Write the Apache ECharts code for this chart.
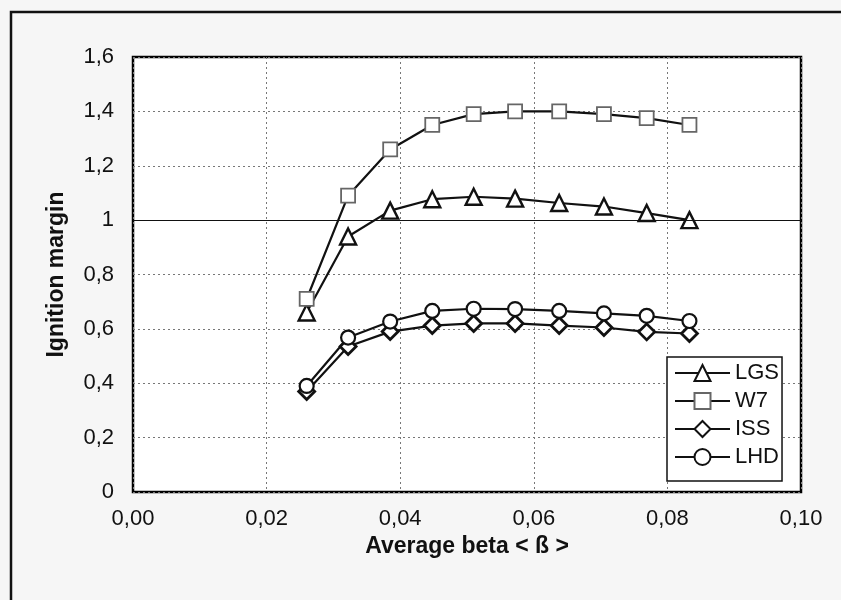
<!DOCTYPE html>
<html>
<head>
<meta charset="utf-8">
<script src="https://cdn.jsdelivr.net/npm/echarts@6/dist/echarts.min.js"></script>
<style>
html,body{margin:0;padding:0;background:#f6f6f6;}
#c{width:841px;height:600px;}
</style>
</head>
<body>
<div id="c"></div>
<script>
var beta = [0.026, 0.0322, 0.0385, 0.0448, 0.051, 0.0572, 0.0638, 0.0705, 0.0769, 0.0833];
var LGS = [0.66, 0.94, 1.035, 1.077, 1.086, 1.079, 1.063, 1.05, 1.026, 1.0];
var W7  = [0.71, 1.09, 1.26, 1.35, 1.39, 1.40, 1.40, 1.39, 1.375, 1.35];
var ISS = [0.37, 0.535, 0.59, 0.612, 0.62, 0.62, 0.612, 0.605, 0.589, 0.583];
var LHD = [0.39, 0.568, 0.627, 0.666, 0.674, 0.673, 0.666, 0.657, 0.648, 0.629];
var seriesNames = ['LGS', 'W7', 'ISS', 'LHD'];

function pairs(ys){ return beta.map(function(b,i){ return [b, ys[i]]; }); }
var FONT = '"Liberation Sans", Arial, sans-serif';

var chart = echarts.init(document.getElementById('c'), null, {renderer:'canvas'});
var lineStyle = {color:'#111', width:2.2};
chart.setOption({
  backgroundColor:'#f6f6f6',
  animation:false,
  textStyle:{fontFamily:FONT},
  graphic:[{type:'rect', shape:{x:11, y:12, width:900, height:700}, style:{fill:null, stroke:'#111', lineWidth:2.5}, z:-1}],
  grid:{left:133, right:40, top:57, bottom:108, show:true, backgroundColor:'#fff', borderColor:'#000', borderWidth:2.5},
  xAxis:{
    type:'value', min:0, max:0.1, interval:0.02,
    name:'Average beta < ß >', nameLocation:'middle', nameGap:42,
    nameTextStyle:{fontSize:23, fontWeight:'bold', color:'#111', fontFamily:FONT},
    axisLine:{show:false}, axisTick:{show:false},
    axisLabel:{margin:16, fontSize:22, color:'#111', fontFamily:FONT,
      formatter:function(v){ return v.toFixed(2).replace('.', ','); }},
    splitLine:{show:true, lineStyle:{type:[2,3], color:'#777', width:1}}
  },
  yAxis:{
    type:'value', min:0, max:1.6, interval:0.2,
    name:'Ignition margin', nameLocation:'middle', nameGap:65,
    nameTextStyle:{fontSize:23, fontWeight:'bold', color:'#111', fontFamily:FONT},
    axisLine:{show:false}, axisTick:{show:false},
    axisLabel:{margin:19, fontSize:22, color:'#111', fontFamily:FONT,
      formatter:function(v){ if (Math.abs(v)<1e-9) return '0'; if (Math.abs(v-1)<1e-9) return '1'; return v.toFixed(1).replace('.', ','); }},
    splitLine:{show:true, lineStyle:{type:[2,3], color:'#777', width:1}}
  },
  legend:{
    orient:'vertical', left:667, top:357, width:100,
    backgroundColor:'#fff', borderColor:'#111', borderWidth:1.5,
    padding:[5,3,13,7], itemWidth:55, itemHeight:20, itemGap:6,
    textStyle:{fontSize:22, color:'#111', fontFamily:FONT},
    data:seriesNames
  },
  series:[
    {name:'LGS', type:'line', data:pairs(LGS), symbol:'triangle', symbolSize:16,
     lineStyle:lineStyle, itemStyle:{color:'#fff', borderColor:'#111', borderWidth:2.4},
     markLine:{silent:true, symbol:'none', label:{show:false}, lineStyle:{color:'#111', width:1, type:'solid'}, data:[{yAxis:1}]}},
    {name:'W7', type:'line', data:pairs(W7), symbol:'rect', symbolSize:14,
     lineStyle:lineStyle, itemStyle:{color:'#fff', borderColor:'#666', borderWidth:1.8}},
    {name:'ISS', type:'line', data:pairs(ISS), symbol:'diamond', symbolSize:16,
     lineStyle:lineStyle, itemStyle:{color:'#fff', borderColor:'#111', borderWidth:2.8}},
    {name:'LHD', type:'line', data:pairs(LHD), symbol:'circle', symbolSize:14,
     lineStyle:lineStyle, itemStyle:{color:'#fff', borderColor:'#111', borderWidth:2.2}}
  ]
});
</script>
</body>
</html>
